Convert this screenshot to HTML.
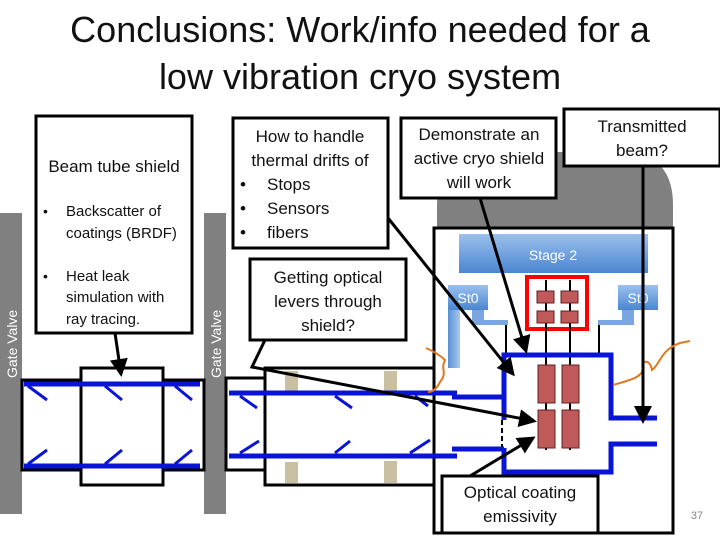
<!DOCTYPE html>
<html><head><meta charset="utf-8"><style>
html,body{margin:0;padding:0;background:#fff;}
svg{display:block;font-family:"Liberation Sans",sans-serif;}
</style></head><body>
<svg width="720" height="540" viewBox="0 0 720 540" xmlns="http://www.w3.org/2000/svg">
<defs>
<linearGradient id="bg" x1="0" y1="0" x2="0" y2="1"><stop offset="0" stop-color="#9cc0ee"/><stop offset="1" stop-color="#4a86d0"/></linearGradient>
<linearGradient id="bh" x1="0" y1="0" x2="1" y2="0"><stop offset="0" stop-color="#5a90d6"/><stop offset="1" stop-color="#a8c8f0"/></linearGradient>
<marker id="ar" markerWidth="6" markerHeight="6" refX="5" refY="3" orient="auto" markerUnits="strokeWidth"><path d="M0,0 L6,3 L0,6 z" fill="#000"/></marker>
</defs>
<text x="360" y="42" font-size="36" text-anchor="middle" fill="#111">Conclusions: Work/info needed for a</text>
<text x="360" y="89" font-size="36" text-anchor="middle" fill="#111">low vibration cryo system</text>

<!-- gate valves -->
<rect x="0" y="213" width="22" height="301" fill="#808080"/>
<rect x="204" y="213" width="22" height="301" fill="#808080"/>
<text transform="translate(17,378) rotate(-90)" font-size="14" fill="#fff">Gate Valve</text>
<text transform="translate(221,378) rotate(-90)" font-size="14" fill="#fff">Gate Valve</text>

<!-- left beam tube -->
<rect x="22" y="380" width="182" height="90" fill="none" stroke="#000" stroke-width="3"/>
<rect x="81" y="368" width="82" height="117" fill="#fff" stroke="#000" stroke-width="3"/>
<g stroke="#0a14d6" stroke-width="5"><line x1="24" y1="384" x2="200" y2="384"/><line x1="24" y1="466" x2="200" y2="466"/></g>
<g stroke="#0a14d6" stroke-width="3">
<line x1="28" y1="386" x2="47" y2="400"/><line x1="105" y1="386" x2="122" y2="400"/><line x1="175" y1="386" x2="192" y2="400"/>
<line x1="28" y1="464" x2="47" y2="450"/><line x1="105" y1="464" x2="122" y2="450"/><line x1="175" y1="464" x2="192" y2="450"/>
</g>

<!-- right tube/chamber -->
<rect x="226" y="378" width="40" height="92" fill="none" stroke="#000" stroke-width="3"/>
<rect x="265" y="368" width="169" height="117" fill="#fff" stroke="#000" stroke-width="3"/>
<rect x="285" y="371" width="13" height="20" fill="#c8c0a0"/><rect x="384" y="371" width="13" height="20" fill="#c8c0a0"/>
<rect x="285" y="462" width="13" height="21" fill="#c8c0a0"/><rect x="384" y="461" width="13" height="22" fill="#c8c0a0"/>

<!-- cryostat -->
<path d="M437,228 L437,205 Q437,152 490,152 L620,152 Q673,152 673,205 L673,228 Z" fill="#808080"/>
<rect x="434" y="228" width="239" height="305" fill="#fff" stroke="#000" stroke-width="3"/>
<rect x="459" y="234" width="189" height="39" fill="url(#bg)"/>
<text x="553" y="260" font-size="14" fill="#fff" text-anchor="middle">Stage 2</text>
<rect x="448" y="285" width="40" height="25" fill="url(#bg)"/>
<text x="468" y="303" font-size="14" fill="#fff" text-anchor="middle">St0</text>
<rect x="448" y="310" width="12" height="58" fill="url(#bh)"/>
<rect x="472" y="310" width="12" height="14" fill="#7aa6e0"/>
<rect x="472" y="320" width="36" height="5" fill="#7aa6e0"/>
<rect x="618" y="285" width="40" height="25" fill="url(#bg)"/>
<text x="638" y="303" font-size="14" fill="#fff" text-anchor="middle">St0</text>
<rect x="622" y="310" width="12" height="14" fill="#7aa6e0"/>
<rect x="598" y="320" width="36" height="5" fill="#7aa6e0"/>

<rect x="527" y="277" width="60" height="52" fill="none" stroke="#f00" stroke-width="4"/>
<g stroke="#000" stroke-width="2"><line x1="546" y1="280" x2="546" y2="450"/><line x1="570" y1="280" x2="570" y2="450"/>
<line x1="506" y1="325" x2="506" y2="356"/><line x1="599" y1="325" x2="599" y2="356"/></g>
<g fill="#c05a5a" stroke="#602020" stroke-width="1">
<rect x="537" y="291" width="17" height="12"/><rect x="561" y="291" width="17" height="12"/>
<rect x="537" y="311" width="17" height="12"/><rect x="561" y="311" width="17" height="12"/>
<rect x="538" y="365" width="17" height="38"/><rect x="562" y="365" width="17" height="38"/>
<rect x="538" y="410" width="17" height="38"/><rect x="562" y="410" width="17" height="38"/>
</g>
<path d="M504,420 L504,355 L611,355 L611,418 L657,418 M657,444 L611,444 L611,472 L504,472 L504,448" fill="none" stroke="#0a14d6" stroke-width="5"/>
<line x1="502" y1="420" x2="502" y2="448" stroke="#000" stroke-width="2" stroke-dasharray="5,3"/>
<g stroke="#0a14d6" stroke-width="5"><line x1="229" y1="393" x2="457" y2="393"/><line x1="229" y1="456" x2="457" y2="456"/>
<line x1="452" y1="397" x2="504" y2="397"/><line x1="452" y1="449" x2="504" y2="449"/></g>
<g stroke="#0a14d6" stroke-width="3">
<line x1="240" y1="396" x2="257" y2="408"/><line x1="335" y1="396" x2="352" y2="408"/><line x1="415" y1="396" x2="428" y2="406"/>
<line x1="240" y1="453" x2="259" y2="441"/><line x1="335" y1="453" x2="350" y2="441"/><line x1="410" y1="453" x2="430" y2="440"/>
</g>
<path d="M426,348 C435,352 440,355 445,360 C440,370 448,372 440,382 C436,390 432,392 428,392" fill="none" stroke="#e07820" stroke-width="2"/>
<path d="M613,385 C630,380 640,378 643,370 C640,360 650,358 652,370 C660,365 660,350 680,343 L690,341" fill="none" stroke="#e07820" stroke-width="2"/>

<!-- text boxes -->
<g fill="#fff" stroke="#000" stroke-width="3">
<rect x="36" y="116" width="156" height="217"/>
<rect x="233" y="118" width="155" height="130"/>
<rect x="250" y="259" width="156" height="81"/>
<rect x="401" y="118" width="155" height="80"/>
<rect x="564" y="109" width="156" height="57"/>
<rect x="442" y="476" width="156" height="57"/>
</g>
<g font-size="17" fill="#111">
<text x="114" y="172" text-anchor="middle">Beam tube shield</text>
<text x="43" y="216" font-size="14">•</text><text x="66" y="216" font-size="15">Backscatter of</text>
<text x="66" y="238" font-size="15">coatings (BRDF)</text>
<text x="43" y="281" font-size="14">•</text><text x="66" y="281" font-size="15">Heat leak</text>
<text x="66" y="302" font-size="15">simulation with</text>
<text x="66" y="324" font-size="15">ray tracing.</text>
<text x="310" y="142" text-anchor="middle">How to handle</text>
<text x="310" y="166" text-anchor="middle">thermal drifts of</text>
<text x="240" y="190">•</text><text x="267" y="190">Stops</text>
<text x="240" y="214">•</text><text x="267" y="214">Sensors</text>
<text x="240" y="238">•</text><text x="267" y="238">fibers</text>
<text x="328" y="283" text-anchor="middle">Getting optical</text>
<text x="328" y="307" text-anchor="middle">levers through</text>
<text x="328" y="331" text-anchor="middle">shield?</text>
<text x="479" y="140" text-anchor="middle">Demonstrate an</text>
<text x="479" y="164" text-anchor="middle">active cryo shield</text>
<text x="479" y="188" text-anchor="middle">will work</text>
<text x="642" y="132" text-anchor="middle">Transmitted</text>
<text x="642" y="156" text-anchor="middle">beam?</text>
<text x="520" y="498" text-anchor="middle">Optical coating</text>
<text x="520" y="522" text-anchor="middle">emissivity</text>
</g>
<text x="697" y="519" font-size="11" fill="#888" text-anchor="middle">37</text>

<!-- connectors -->
<g stroke="#000" stroke-width="3" fill="none">
<line x1="115" y1="333" x2="121" y2="374" marker-end="url(#ar)"/>
<line x1="388" y1="218" x2="513" y2="374" marker-end="url(#ar)"/>
<line x1="480" y1="198" x2="526" y2="351" marker-end="url(#ar)"/>
<line x1="643" y1="166" x2="643" y2="421" marker-end="url(#ar)"/>
<line x1="470" y1="476" x2="533" y2="438" marker-end="url(#ar)"/>
<path d="M265,340 L252,367 L534,421" marker-end="url(#ar)"/>
</g>
</svg>
</body></html>
